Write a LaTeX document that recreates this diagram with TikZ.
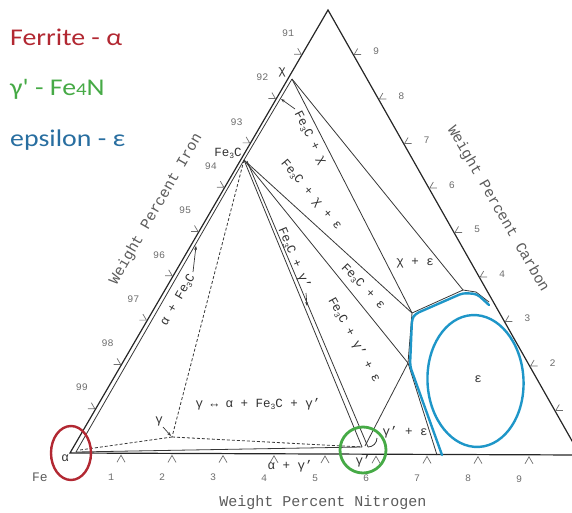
\documentclass[tikz,border=0pt]{standalone}
\usepackage{fontspec}
\setmainfont{Liberation Mono}
\newfontfamily\legfont{Carlito}
\usetikzlibrary{arrows.meta,calc}
\definecolor{ink}{RGB}{55,55,55}
\definecolor{txt}{RGB}{50,50,50}
\definecolor{tickc}{RGB}{110,110,110}
\definecolor{ferr}{RGB}{178,40,50}
\definecolor{gre}{RGB}{70,170,70}
\definecolor{epsb}{RGB}{40,110,160}
\definecolor{hl}{RGB}{30,150,200}
\newcommand\fsz[1]{\fontsize{#1}{#1}\selectfont}
\newcommand\subt[1]{\raisebox{-0.3ex}{\fontsize{8}{8}\selectfont #1}}
\tikzset{
  edge/.style={draw=black!85, line width=1.2pt},
  bline/.style={draw=ink, line width=0.8pt},
  dline/.style={draw=ink, line width=0.8pt, dash pattern=on 3pt off 2pt},
  lab/.style={text=txt, font=\fsz{12.5}, inner sep=0pt},
  axlab/.style={text=txt!80, font=\fsz{15}, inner sep=0pt},
  ticklab/.style={text=tickc, font=\fsz{10}, inner sep=0pt},
  tk/.style={draw=tickc, line width=0.7pt},
  arr/.style={draw=ink, line width=0.7pt, -{Stealth[length=4pt,width=3pt]}},
  hlline/.style={draw=hl, line width=2.4pt, line join=round, line cap=round},
  leg/.style={font=\legfont\fsz{24}, anchor=west, inner sep=0pt, xscale=1.16}
}
\begin{document}
\begin{tikzpicture}[x=1pt,y=-1pt]
\useasboundingbox (0,0) rectangle (572,513);
\clip (0,0) rectangle (572,513);
% key points
\coordinate (A) at (70,453);
\coordinate (C) at (328,10);
\coordinate (B) at (580,455);
\coordinate (a1) at (76,452);
\coordinate (a2) at (80,450);
\coordinate (F) at (244,160);
\coordinate (F2) at (247,161);
\coordinate (X) at (292,79);
\coordinate (E1) at (412,313);
\coordinate (E2) at (408,363);
\coordinate (T) at (463,290);
\coordinate (T2) at (476,292);
\coordinate (T3) at (489,302);
\coordinate (Eb) at (437,455);
\coordinate (G1) at (362,447);
\coordinate (G2) at (368,447);
\coordinate (G) at (365,446);
\coordinate (Gm) at (172,437);
% outer triangle
\draw[edge] (A) -- (C) -- (B) -- cycle;
% inner lines
\draw[bline] (a1) -- (F) -- (X);
\draw[bline] (X) -- (E1);
\draw[bline] (X) -- (T);
\draw[bline] (F) -- (E1);
\draw[bline] (F) -- (E2);
\draw[bline] (F) -- (G1);
\draw[bline] (F2) -- (G2);
\draw[bline] (G) -- (E2);
\draw[bline] (E1) -- (E2) -- (Eb);
\draw[bline] (E1) -- (T) -- (T2) -- (T3);
\draw[bline] (a1) -- (G1);
\draw[bline] (G2) arc[start angle=90, end angle=0, radius=9];
% dashed
\draw[dline] (F) -- (Gm);
\draw[dline] (a2) -- (Gm);
\draw[dline] (Gm) -- (G1);
% ticks bottom
\foreach \k in {1,...,9}{
  \coordinate (bt\k) at ({70+51*\k},{455+0.2*\k});
  \draw[tk] ($(bt\k)+(-4,7)$) -- (bt\k) -- ($(bt\k)+(4,7)$);
  \node[ticklab] (btl\k) at ($(bt\k)+(-10,22)$) {\k};
}
% ticks left (weight percent iron)
\foreach \k in {1,...,9}{
  \pgfmathtruncatemacro{\lab}{100-\k}
  \coordinate (lt\k) at ({70+25.8*\k-1},{453-44.3*\k});
  \draw[tk] ($(lt\k)+(-3.5,-6)$) -- (lt\k) -- ($(lt\k)+(-7,0)$);
  \node[ticklab] (ltl\k) at ($(lt\k)+(-13,-21)$) {\lab};
}
% ticks right (weight percent carbon)
\foreach \k in {1,...,9}{
  \coordinate (rt\k) at ({580-25.2*\k+1},{455-44.5*\k});
  \draw[tk] ($(rt\k)+(3.5,-6)$) -- (rt\k) -- ($(rt\k)+(7,0)$);
}
\foreach \k in {2,...,9}{
  \node[ticklab] (rtl\k) at ($(rt\k)+(22,-3)$) {\k};
}
% axis labels
\node[axlab, rotate=60] (wfe) at (156,209) {Weight Percent Iron};
\node[axlab, rotate=-60] (wc) at (498,209) {Weight Percent Carbon};
\node[axlab] (wn) at (323,503) {Weight Percent Nitrogen};
\node[lab, font=\fsz{13}, text=txt!80] (fe) at (40,477) {Fe};
\node[lab] (alph) at (65,458) {α};
\node[lab] (chi) at (282,72) {χ};
\node[lab] (fe3c) at (228,153) {Fe\subt{3}C};
% region labels
\node[lab, rotate=-63] (l1) at (310,138) {Fe\subt{3}C + χ};
\node[lab, rotate=-50] (l2) at (311,195) {Fe\subt{3}C + χ + ε};
\node[lab, rotate=-67] (l3) at (294,258) {Fe\subt{3}C + γ'};
\node[lab, rotate=-46] (l4) at (363,287) {Fe\subt{3}C + ε};
\node[lab, rotate=-61] (l5) at (354,340) {Fe\subt{3}C + γ' + ε};
\node[lab, rotate=60] (l6) at (178,300) {α + Fe\subt{3}C};
\node[lab] (l7) at (415,263) {χ + ε};
\node[lab] (l8) at (478,379) {ε};
\node[lab] (l9) at (405,432) {γ' + ε};
\node[lab] (l10) at (258,404) {γ ↔ α + Fe\subt{3}C + γ'};
\node[lab] (l11) at (290,466) {α + γ'};
\node[lab] (l12) at (363,461) {γ'};
\node[lab] (l13) at (159,421) {γ};
% label arrows
\coordinate (ar1s) at (295,109); \coordinate (ar1e) at (281,99);
\coordinate (ar2s) at (306,293); \coordinate (ar2e) at (307,306);
\coordinate (ar3s) at (193,272); \coordinate (ar3e) at (196,246);
\coordinate (ar4s) at (163,427); \coordinate (ar4e) at (171,436);
\draw[arr] (ar1s) -- (ar1e);
\draw[arr] (ar2s) -- (ar2e);
\draw[arr] (ar3s) -- (ar3e);
\draw[arr] (ar4s) -- (ar4e);
% highlights
\coordinate (h1) at (489,305);
\coordinate (h2) at (477,294);
\coordinate (h3) at (463,293);
\coordinate (h4) at (415,314);
\coordinate (h5) at (412,319);
\coordinate (h6) at (410,366);
\coordinate (h7) at (442,455);
\draw[hlline, rounded corners=4pt] (h1) -- (h2) -- (h3) -- (h4) -- (h5) -- (h6) -- (h7);
\draw[draw=hl, line width=2.4pt, rotate around={3:(475.5,381)}] (475.5,381) ellipse[x radius=48, y radius=66];
\draw[draw=ferr, line width=2.4pt] (71,453) ellipse[x radius=20, y radius=27];
\draw[draw=gre, line width=2.8pt] (363,450) circle[radius=23];
% legend
\node[leg, text=ferr] (lg1) at (10,37) {Ferrite - α};
\node[leg, text=gre] (lg2) at (10,89) {γ' - Fe{\fsz{18}4}N};
\node[leg, text=epsb] (lg3) at (10,140) {epsilon - ε};
\end{tikzpicture}
\end{document}
